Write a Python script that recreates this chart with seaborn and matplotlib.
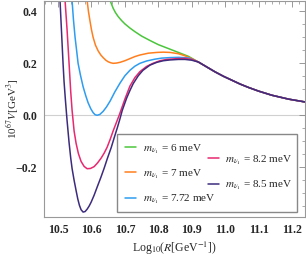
import numpy as np
import pandas as pd
import seaborn as sns
import matplotlib.pyplot as plt
from matplotlib.patches import Rectangle
from matplotlib.ticker import MultipleLocator

# ---- data ----
tail_x = [10.92, 10.945, 10.97, 10.995, 11.02, 11.045, 11.07, 11.10, 11.14, 11.19, 11.24]
tail_y = [0.205, 0.186, 0.167, 0.150, 0.135, 0.120, 0.107, 0.093, 0.077, 0.062, 0.051]

green_x = [10.656, 10.66, 10.665, 10.672, 10.68, 10.69, 10.70, 10.715, 10.73, 10.75,
           10.775, 10.80, 10.83, 10.86, 10.89] + tail_x
green_y = [0.442, 0.428, 0.412, 0.395, 0.380, 0.365, 0.352, 0.336, 0.322, 0.305,
           0.288, 0.272, 0.257, 0.242, 0.227] + tail_y

orange_x = [10.587, 10.591, 10.596, 10.600, 10.605, 10.612, 10.620, 10.628, 10.635,
            10.643, 10.650, 10.658, 10.665, 10.675, 10.686, 10.70, 10.715, 10.73,
            10.745, 10.77, 10.796, 10.815, 10.835, 10.86, 10.88, 10.90] + tail_x
orange_y = [0.442, 0.400, 0.360, 0.330, 0.300, 0.270, 0.248, 0.232, 0.222,
            0.212, 0.206, 0.202, 0.200, 0.201, 0.204, 0.210, 0.218, 0.226,
            0.232, 0.239, 0.242, 0.243, 0.242, 0.237, 0.229, 0.218] + tail_y

blue_x = [10.542, 10.546, 10.551, 10.556, 10.560, 10.567, 10.575, 10.583, 10.590,
          10.598, 10.605, 10.611, 10.617, 10.625, 10.635, 10.645, 10.656, 10.67,
          10.686, 10.70, 10.715, 10.73, 10.745, 10.765, 10.79, 10.81, 10.835,
          10.86, 10.89] + tail_x
blue_y = [0.442, 0.370, 0.300, 0.245, 0.200, 0.155, 0.110, 0.075, 0.048,
          0.025, 0.010, 0.002, 0.000, 0.003, 0.015, 0.032, 0.055, 0.090,
          0.125, 0.152, 0.173, 0.189, 0.200, 0.209, 0.216, 0.220, 0.222,
          0.223, 0.221] + tail_y

pink_x = [10.521, 10.527, 10.533, 10.538, 10.542, 10.548, 10.554, 10.561, 10.569,
          10.578, 10.587, 10.597, 10.608, 10.618, 10.629, 10.638, 10.647, 10.656,
          10.665, 10.674, 10.683, 10.70, 10.715, 10.73, 10.745, 10.765, 10.784,
          10.805, 10.826, 10.855, 10.88, 10.90] + tail_x
pink_y = [0.442, 0.330, 0.200, 0.090, 0.020, -0.060, -0.108, -0.148, -0.178,
          -0.197, -0.206, -0.205, -0.198, -0.184, -0.165, -0.146, -0.123, -0.093,
          -0.060, -0.030, 0.000, 0.062, 0.112, 0.145, 0.168, 0.188, 0.200,
          0.210, 0.215, 0.218, 0.219, 0.215] + tail_y

purple_x = [10.506, 10.509, 10.512, 10.515, 10.518, 10.522, 10.527, 10.533, 10.538,
            10.542, 10.548, 10.554, 10.559, 10.564, 10.569, 10.575, 10.581, 10.587,
            10.593, 10.599, 10.608, 10.617, 10.628, 10.638, 10.648, 10.659, 10.668,
            10.677, 10.685, 10.692, 10.705, 10.715, 10.725, 10.74, 10.754, 10.775,
            10.796, 10.815, 10.835, 10.86, 10.88, 10.90] + tail_x
purple_y = [0.442, 0.360, 0.280, 0.200, 0.130, 0.060, -0.020, -0.105, -0.165,
            -0.205, -0.250, -0.290, -0.322, -0.347, -0.364, -0.373, -0.371, -0.362,
            -0.350, -0.335, -0.308, -0.277, -0.240, -0.204, -0.165, -0.125, -0.087,
            -0.050, -0.015, 0.018, 0.065, 0.095, 0.122, 0.152, 0.173, 0.193,
            0.204, 0.210, 0.213, 0.215, 0.215, 0.212] + tail_y

labels = [r"$m_{\nu_1}$ = 6 meV", r"$m_{\nu_1}$ = 7 meV", r"$m_{\nu_1}$ = 7.72 meV",
          r"$m_{\nu_1}$ = 8.2 meV", r"$m_{\nu_1}$ = 8.5 meV"]
colors = ["#4BC63C", "#FF7F1E", "#2E9CF0", "#E8286F", "#3D2C7D"]

series = [(green_x, green_y), (orange_x, orange_y), (blue_x, blue_y),
          (pink_x, pink_y), (purple_x, purple_y)]
frames = []
for lab, (xs, ys) in zip(labels, series):
    frames.append(pd.DataFrame({"logR": xs, "V": ys, "mass": lab}))
df = pd.concat(frames, ignore_index=True)

# ---- figure ----
sns.set_style("white")
plt.rcParams["font.family"] = ["Liberation Serif", "DejaVu Serif"]
plt.rcParams["mathtext.fontset"] = "stix"

fig = plt.figure(figsize=(3.06, 2.56), dpi=100)
ax = fig.add_axes([44 / 306, 1 - 217 / 256, 261 / 306, 216.5 / 256])

ax.axhline(0, color="#d0d0d0", lw=0.8, zorder=0)

sns.lineplot(data=df, x="logR", y="V", hue="mass", hue_order=labels,
             palette=colors, sort=False, estimator=None,
             legend=False, lw=1.1, ax=ax)

ax.set_xlim(10.458, 11.239)
ax.set_ylim(-0.392, 0.442)

ax.xaxis.set_minor_locator(MultipleLocator(0.02))
ax.yaxis.set_minor_locator(MultipleLocator(0.05))
ax.set_yticks([-0.2, 0.0, 0.2, 0.4])
ax.set_yticklabels(["\u22120.2", "0.0", "0.2", "0.4"])
ax.set_xticks([10.5, 10.6, 10.7, 10.8, 10.9, 11.0, 11.1, 11.2])
ax.set_xticklabels(["10.5", "10.6", "10.7", "10.8", "10.9", "11.0", "11.1", "11.2"])

ax.tick_params(which="both", direction="in", top=True, right=True,
               color="#888888", labelsize=8.5, pad=5)
ax.tick_params(which="major", length=4, width=0.6)
ax.tick_params(which="minor", length=2, width=0.5)
for t in ax.get_xticklabels() + ax.get_yticklabels():
    t.set_fontweight("bold")
for sp in ax.spines.values():
    sp.set_color("#999999")
    sp.set_linewidth(0.8)

ax.set_xlabel(r"Log$_{10}$($R$[GeV$^{-1}$])", fontsize=8.5, labelpad=3)
ax.set_ylabel(r"10$^{67}$$V$[GeV$^{3}$]", fontsize=8)
ax.yaxis.set_label_coords(-0.088, 0.5)

# legend box
ax.add_patch(Rectangle((0.28, 0.023), 0.689, 0.359, transform=ax.transAxes,
                       facecolor="white", edgecolor="#888888", lw=1.0, zorder=5))
lines = ax.get_lines()[1:]
leg1 = ax.legend(lines[:3], labels[:3], loc="upper left",
                 bbox_to_anchor=(0.28, 0.382), frameon=False, fontsize=8,
                 handlelength=1.0, handletextpad=0.6, labelspacing=1.05,
                 borderaxespad=0.2, borderpad=0.5)
leg1.set_zorder(6)
ax.add_artist(leg1)
leg2 = ax.legend(lines[3:], labels[3:], loc="center left",
                 bbox_to_anchor=(0.61, 0.205), frameon=False, fontsize=8,
                 handlelength=1.0, handletextpad=0.6, labelspacing=1.05,
                 borderaxespad=0.2, borderpad=0.2)
leg2.set_zorder(6)

fig.savefig("out.png", dpi=100)
